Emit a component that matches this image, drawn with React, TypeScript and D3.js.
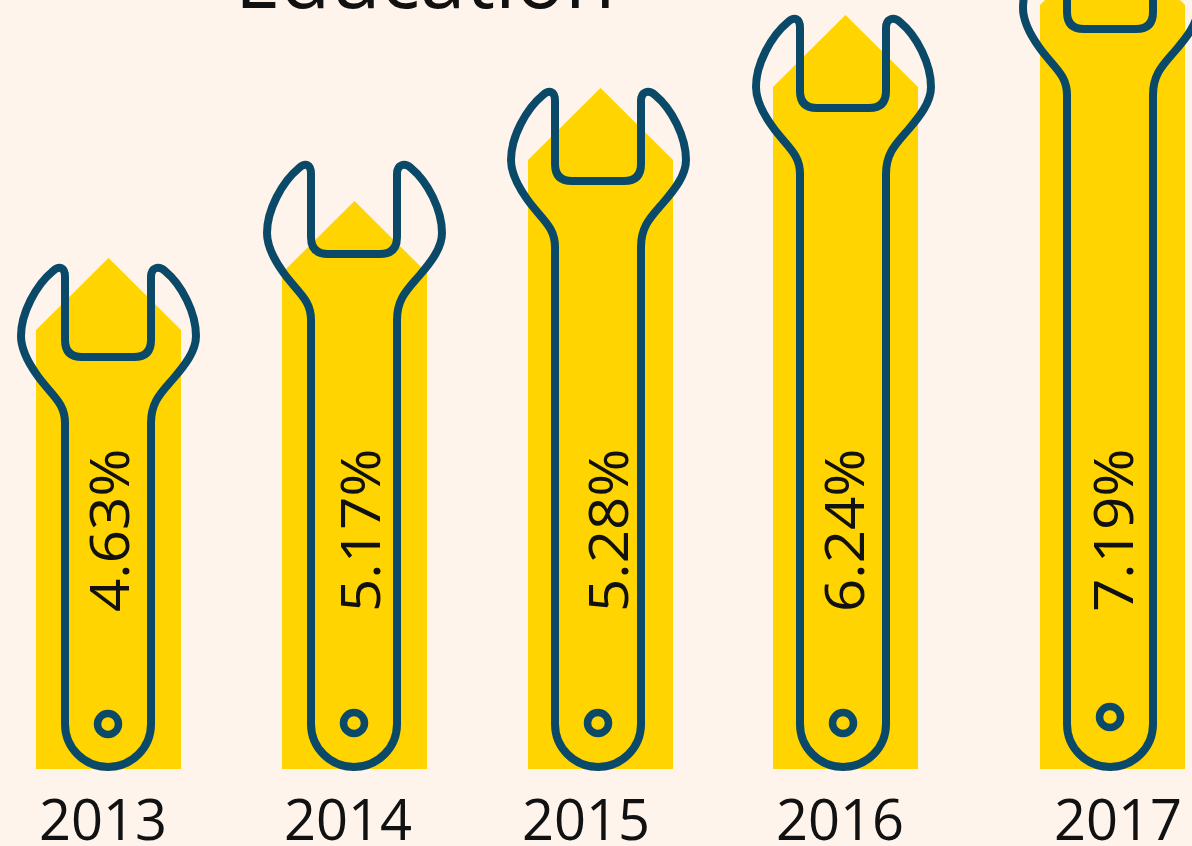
import React from "react";
import * as d3 from "d3";

const years = ["2013", "2014", "2015", "2016", "2017"];
const shares = ["4.63%", "5.17%", "5.28%", "6.24%", "7.19%"];
// Bars are not proportional to the labels in the source: heights.
const arrowTips = [5.11, 5.68, 6.81, 7.54, 8.36];
const wrenchTops = [5.02, 6.05, 6.78, 7.51, 8.30];
const holeLevels = [0.45, 0.46, 0.46, 0.46, 0.52];

const barLefts = [36, 282, 528, 773, 1040];
const wrenchCenters = [108, 354, 598, 843, 1110];
const shareBaselines = [129, 380, 628, 864, 1133];
const yearCenters = [103, 348, 586, 840, 1118];

const W = 1192;
const H = 846;
const BASE = 769;
const BAR_W = 145;
const SHOULDER = 72;
const INK = "#0a4a68";
const FONT = "'Open Sans', 'Noto Sans', sans-serif";

const y = d3.scaleLinear().domain([0, 10]).range([BASE, BASE - 1000]);

function arrowPath(left: number, tip: number) {
  const p = d3.path();
  p.moveTo(left, BASE);
  p.lineTo(left, tip + SHOULDER);
  p.lineTo(left + BAR_W / 2, tip);
  p.lineTo(left + BAR_W, tip + SHOULDER);
  p.lineTo(left + BAR_W, BASE);
  p.closePath();
  return p.toString();
}

function wrenchPath(cx: number, t: number) {
  const b = BASE - 2;
  const X = (d: number) => cx + d;
  const Y = (d: number) => t + d;
  const p = d3.path();
  p.moveTo(X(-43), b - 43);
  p.lineTo(X(-43), Y(156));
  p.bezierCurveTo(X(-43), Y(135), X(-57), Y(128), X(-71), Y(108));
  p.bezierCurveTo(X(-81), Y(94), X(-87), Y(82), X(-87), Y(69));
  p.bezierCurveTo(X(-87), Y(46), X(-72), Y(18), X(-55), Y(4));
  p.bezierCurveTo(X(-48), Y(-2), X(-43), Y(1), X(-43), Y(10));
  p.lineTo(X(-43), Y(73));
  p.quadraticCurveTo(X(-43), Y(90), X(-26), Y(90));
  p.lineTo(X(26), Y(90));
  p.quadraticCurveTo(X(43), Y(90), X(43), Y(73));
  p.lineTo(X(43), Y(10));
  p.bezierCurveTo(X(43), Y(1), X(50), Y(-2), X(57), Y(4));
  p.bezierCurveTo(X(74), Y(18), X(88), Y(46), X(88), Y(69));
  p.bezierCurveTo(X(88), Y(84), X(77), Y(98), X(65), Y(112));
  p.bezierCurveTo(X(53), Y(126), X(43), Y(135), X(43), Y(156));
  p.lineTo(X(43), b - 43);
  p.arc(cx, b - 43, 43, 0, Math.PI);
  p.closePath();
  return p.toString();
}

export default function App() {
  return (
    <svg
      width={W}
      height={H}
      viewBox={`0 0 ${W} ${H}`}
      style={{ position: "fixed", left: 0, top: 0, display: "block" }}
      fontFamily={FONT}
    >
      <rect width={W} height={H} fill="#fef4ec" />
      <text x={425} y={8} textAnchor="middle" fontSize={82} fill="#111">
        Education
      </text>
      {years.map((yr, i) => (
        <g key={yr}>
          <path d={arrowPath(barLefts[i], y(arrowTips[i]))} fill="#ffd400" />
          <path
            d={wrenchPath(wrenchCenters[i], y(wrenchTops[i]))}
            fill="none"
            stroke={INK}
            strokeWidth={8}
            strokeLinejoin="round"
          />
          <circle
            cx={wrenchCenters[i]}
            cy={y(holeLevels[i])}
            r={10.5}
            fill="none"
            stroke={INK}
            strokeWidth={7.5}
          />
          <text
            transform={`translate(${shareBaselines[i]},612) rotate(-90) scale(1.08,1)`}
            fontSize={54}
            fill="#111"
          >
            {shares[i]}
          </text>
          <text x={yearCenters[i]} y={840} textAnchor="middle" fontSize={56} fill="#111">
            {yr}
          </text>
        </g>
      ))}
    </svg>
  );
}
